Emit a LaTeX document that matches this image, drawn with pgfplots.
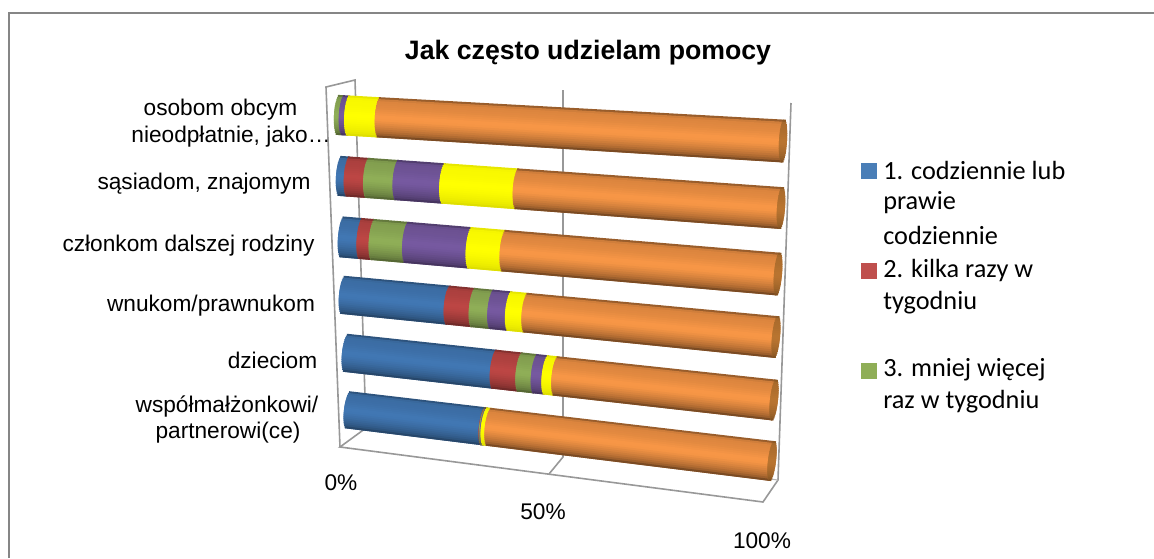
\documentclass[border=0pt]{standalone}
\usepackage{fontspec}
\setmainfont{Liberation Sans}
\newfontfamily\carl{Carlito}
\usepackage{pgfplots}
\usepackage{pgfplotstable}
\pgfplotsset{compat=1.18}
\definecolor{serA}{HTML}{4177B3}
\definecolor{serB}{HTML}{BC4644}
\definecolor{serC}{HTML}{8FAE57}
\definecolor{serD}{HTML}{7659A0}
\definecolor{serE}{HTML}{FFFF00}
\definecolor{serF}{HTML}{F79646}
\definecolor{capF}{HTML}{B87430}
\definecolor{gridc}{HTML}{868686}
% share of answers (percent), one row per category, top bar first
\pgfplotstableread{
a b c d e f
0.0 0.0 1.1 1.2 6.9 90.8
1.8 4.4 6.7 10.6 16.7 59.8
4.3 2.8 7.7 14.6 7.8 62.8
24.3 5.8 4.3 4.1 3.8 57.7
34.7 6.0 3.6 2.5 2.3 50.9
31.9 0.1 0.2 0.2 0.9 66.7
}\shares
% placement of each cylinder in the perspective view (pixels)
\pgfplotstableread{
lx ly lh rx ry rh
339 115 40 783 141 43
341 176 40 781 208 42
343 237 41 778 274 43
344 295 38 776 337 42
347 353 38 774 400 41
349 410 37 772 461 40
}\geom
\newcommand{\getg}[2]{\pgfplotstablegetelem{#1}{#2}\of\geom\edef\gv{\pgfplotsretval}}
\def\strips{-.902/62/3,-.802/84/3,-.702/89/3,-.602/90/3,-.502/91/3,-.402/92/3,-.302/94/3,-.202/96/3,-.102/98/3,-.002/100/3,.098/100/3,.198/99/3,.298/96/3,.398/92/3,.498/88/3,.598/83/3,.698/78/3,.798/72/3,.898/64/3,.95/50/1.5}
% #1 flatness, #2 colour, #3 start %, #4 end %, #5 ellipse at start, #6 ellipse at end
\newcommand{\seg}[6]{%
 \foreach \t/\f/\w in \strips {%
  \pgfmathsetmacro{\fx}{100-(100-\f)*#1}%
  \pgfmathsetmacro{\s}{sqrt(1-(\t)*(\t))}%
  \pgfmathsetmacro{\ha}{(\lh+(\rh-\lh)*(#3/100))*(\t)/2}%
  \pgfmathsetmacro{\hb}{(\lh+(\rh-\lh)*(#4/100))*(\t)/2}%
  \pgfmathsetmacro{\ux}{\dx/\nn}\pgfmathsetmacro{\uy}{\dy/\nn}%
  \pgfmathsetmacro{\xa}{\lx+\dx*(#3/100)-\ha*\uy-#5*\s*\ux}%
  \pgfmathsetmacro{\ya}{\ly+\dy*(#3/100)+\ha*\ux-#5*\s*\uy}%
  \pgfmathsetmacro{\xb}{\lx+\dx*(#4/100)-\hb*\uy+#6*\s*\ux}%
  \pgfmathsetmacro{\yb}{\ly+\dy*(#4/100)+\hb*\ux+#6*\s*\uy}%
  \edef\doit{\noexpand\addplot[draw=#2!\fx!black,line width=\w pt,no marks,forget plot] coordinates {(\xa,\ya)(\xb,\yb)};}%
  \doit
 }%
}
\begin{document}
\begin{tikzpicture}
\begin{axis}[width=865.5pt,height=418.5pt,scale only axis,hide axis,clip=false,
  xmin=0,xmax=1154,ymin=0,ymax=558,y dir=reverse]
\path[use as bounding box] (axis cs:0,0) rectangle (axis cs:1154,558);
% frame
\addplot[draw=gridc,line width=1.5pt,no marks,forget plot] coordinates {(9,558)(9,13)(1154,13)};
% walls, floor, gridlines
\addplot[draw=gridc!85,line width=1.2pt,no marks,forget plot] coordinates {(340,447)(326,87)(355,80)(366,428)(340,447)(763,502)(778,480)(791,103)};
\addplot[draw=gridc!85,line width=1.2pt,no marks,forget plot] coordinates {(563,90)(563,457)(549,474)};
\addplot[draw=gridc!60,line width=.8pt,no marks,forget plot] coordinates {(366,428)(778,480)};
% cylinders
\foreach \r in {0,...,5} {%
  \getg{\r}{lx}\let\lx\gv \getg{\r}{ly}\let\ly\gv \getg{\r}{lh}\let\lh\gv
  \getg{\r}{rx}\let\rx\gv \getg{\r}{ry}\let\ry\gv \getg{\r}{rh}\let\rh\gv
  \pgfmathsetmacro{\dx}{\rx-\lx}\pgfmathsetmacro{\dy}{\ry-\ly}\pgfmathsetmacro{\nn}{veclen(\dx,\dy)}%
  \xdef\cum{0}%
  \foreach \col/\cc/\fl in {a/serA/.8,b/serB/.8,c/serC/.8,d/serD/.8,e/serE/.25,f/serF/1} {%
    \pgfplotstablegetelem{\r}{\col}\of\shares
    \edef\val{\pgfplotsretval}%
    \pgfmathsetmacro{\endp}{\cum+\val}%
    \pgfmathparse{\val>0?1:0}%
    \ifnum\pgfmathresult>0
      \seg{\fl}{\cc}{\cum}{\endp}{5}{0}%
    \fi
    \xdef\cum{\endp}%
  }%
  \seg{.6}{capF}{100}{100}{4}{4}%
}
% legend keys
\addplot[only marks,mark=square*,mark size=5.6pt,color=serA!95!white,forget plot] coordinates {(868.5,170.5)};
\addplot[only marks,mark=square*,mark size=5.6pt,color=serB!95!white,forget plot] coordinates {(868.5,270.5)};
\addplot[only marks,mark=square*,mark size=5.6pt,color=serC,forget plot] coordinates {(868.5,370.5)};
% title
\node[font=\fontsize{20}{24}\selectfont\bfseries] at (axis cs:588,53) {Jak często udzielam pomocy};
% categories
\def\cf{\fontsize{17}{20}\selectfont}
\tikzset{lab/.style={font=\cf,anchor=base,inner sep=0pt}}
\node[lab] at (axis cs:220.5,115) {osobom obcym};
\node[lab] at (axis cs:231,142) {nieodpłatnie, jako…};
\node[lab] at (axis cs:204,189) {sąsiadom, znajomym};
\node[lab] at (axis cs:188.5,251) {członkom dalszej rodziny};
\node[lab] at (axis cs:211,311) {wnukom/prawnukom};
\node[lab] at (axis cs:272.5,368) {dzieciom};
\node[lab] at (axis cs:227,412) {współmałżonkowi/};
\node[lab] at (axis cs:228,438) {partnerowi(ce)};
% value axis
\node[lab] at (axis cs:341,490) {0\%};
\node[lab] at (axis cs:543,519) {50\%};
\node[lab] at (axis cs:762,548) {100\%};
% legend text
\def\lf{\carl\fontsize{19.7}{23}\selectfont}
\node[font=\lf,anchor=west,inner sep=0pt] at (axis cs:883,170) {1. codziennie lub};
\node[font=\lf,anchor=west,inner sep=0pt] at (axis cs:883,203) {prawie};
\node[font=\lf,anchor=west,inner sep=0pt] at (axis cs:883,235) {codziennie};
\node[font=\lf,anchor=west,inner sep=0pt] at (axis cs:883,270) {2. kilka razy w};
\node[font=\lf,anchor=west,inner sep=0pt] at (axis cs:883,303) {tygodniu};
\node[font=\lf,anchor=west,inner sep=0pt] at (axis cs:883,370) {3. mniej więcej};
\node[font=\lf,anchor=west,inner sep=0pt] at (axis cs:883,402) {raz w tygodniu};
\end{axis}
\end{tikzpicture}
\end{document}
